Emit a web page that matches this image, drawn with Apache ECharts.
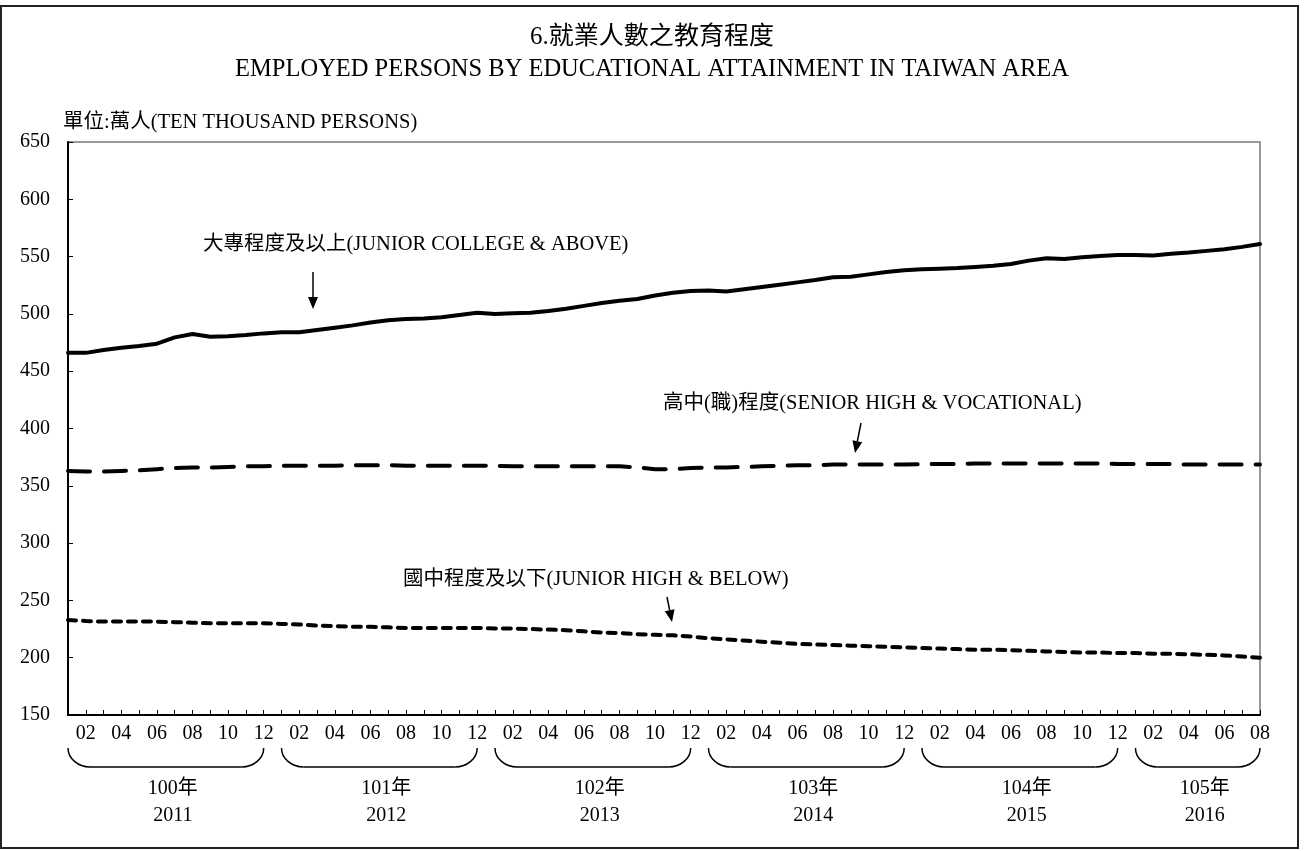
<!DOCTYPE html>
<html>
<head>
<meta charset="utf-8">
<script src="https://cdn.jsdelivr.net/npm/echarts@6/dist/echarts.min.js"></script>
<style>
  html, body { margin: 0; padding: 0; background: #fff; }
  #chart { width: 1304px; height: 851px; }
</style>
</head>
<body>
<div id="chart"></div>
<script>
// 2011-01 .. 2016-08, monthly
const months = []
for (let y = 2011; y <= 2016; y++) {
  for (let m = 1; m <= 12; m++) {
    if (y === 2016 && m > 8) break
    months.push(`${y}-${String(m).padStart(2, '0')}`)
  }
}

// 大專程度及以上
const college = [
  466, 466, 468.5, 470.5, 472, 474, 479.5, 482.5, 480, 480.5, 481.5, 483,
  484, 484, 486, 488, 490, 492.5, 494.5, 495.5, 496, 497, 499, 501,
  500, 500.5, 501, 502.5, 504.5, 507, 509.5, 511.5, 513, 516, 518.5, 520,
  520.5, 519.5, 521.5, 523.5, 525.5, 527.5, 529.5, 532, 532.5, 534.5, 536.5, 538,
  539, 539.5, 540, 541, 542, 543.5, 546.5, 548.5, 548, 549.5, 550.5, 551.5,
  551.5, 551, 552.5, 553.5, 555, 556.5, 558.5, 561
]

// 高中(職)程度
const seniorHigh = [
  363, 362.5, 362.5, 363, 363.5, 364.5, 365.5, 366, 366, 366.5, 367, 367,
  367.5, 367.5, 367.5, 367.5, 368, 368, 368, 367.5, 367.5, 367.5, 367.5, 367.5,
  367.5, 367, 367, 367, 367, 367, 367, 367, 366, 364.5, 364.5, 365.5,
  366, 366, 366.5, 367, 367.5, 368, 368, 368.5, 368.5, 368.5, 368.5, 368.5,
  369, 369, 369, 369.5, 369.5, 369.5, 369.5, 369.5, 369.5, 369.5, 369.5, 369,
  369, 369, 369, 368.5, 368.5, 368.5, 368.5, 368.5
]

// 國中程度及以下
const juniorHigh = [
  233, 232, 231.5, 231.5, 231.5, 231.5, 231, 230.5, 230, 230, 230, 230,
  229.5, 229, 228, 227.5, 227, 227, 226.5, 226, 226, 226, 226, 226,
  225.5, 225.5, 225, 224.5, 224, 223, 222, 221.5, 220.5, 220, 219.5, 218.5,
  217, 216, 215, 214, 213, 212, 211.5, 211, 210.5, 210, 209.5, 209,
  208.5, 208, 207.5, 207, 207, 206.5, 206, 205.5, 205, 204.5, 204.5, 204,
  204, 203.5, 203.5, 203, 202.5, 202, 201, 200
]

const rocYears = ['100年', '101年', '102年', '103年', '104年', '105年']
const adYears = ['2011', '2012', '2013', '2014', '2015', '2016']

const FONT = "'Liberation Serif', 'Noto Sans CJK TC', serif"
const chart = echarts.init(document.getElementById('chart'))

const lineSeries = (name, data, type) => ({
  name: name,
  type: 'line',
  data: data,
  symbol: 'none',
  smooth: false,
  lineStyle: { color: '#000', width: 4, type: type, cap: 'round', join: 'round' }
})

chart.setOption({
  animation: false,
  backgroundColor: '#fff',
  textStyle: { fontFamily: FONT, color: '#000' },
  grid: {
    left: 68, right: 44, top: 142, bottom: 136,
    show: true, borderColor: '#999', borderWidth: 2
  },
  xAxis: {
    type: 'category',
    boundaryGap: false,
    data: months,
    axisLine: { lineStyle: { color: '#000', width: 2 } },
    axisTick: { inside: true, length: 5, interval: 0, lineStyle: { color: '#000' } },
    axisLabel: {
      interval: 0,
      margin: 9,
      fontSize: 20,
      fontFamily: FONT,
      color: '#000',
      formatter: (val) => {
        const m = parseInt(val.slice(5), 10)
        return m % 2 === 0 ? val.slice(5) : ''
      }
    },
    splitLine: { show: false }
  },
  yAxis: {
    type: 'value',
    min: 150,
    max: 650,
    interval: 50,
    axisLine: { show: true, lineStyle: { color: '#000', width: 2 } },
    axisTick: { show: true, inside: true, length: 5, lineStyle: { color: '#000' } },
    axisLabel: { fontSize: 20, fontFamily: FONT, color: '#000', margin: 18 },
    splitLine: { show: false }
  },
  series: [
    lineSeries('大專程度及以上', college, 'solid'),
    lineSeries('高中(職)程度', seniorHigh, [22, 14]),
    lineSeries('國中程度及以下', juniorHigh, [8, 7])
  ]
})

// 標注文字與箭頭
const label = (text, x, y, size, align) => ({
  type: 'text',
  x: x, y: y,
  style: {
    text: text, fill: '#000', font: `${size}px ${FONT}`,
    align: align || 'left', verticalAlign: 'middle'
  }
})
const arrow = (x1, y1, x2, y2) => {
  const dx = x2 - x1
  const dy = y2 - y1
  const len = Math.sqrt(dx * dx + dy * dy)
  const ux = dx / len
  const uy = dy / len
  const bx = x2 - ux * 12
  const by = y2 - uy * 12
  return [
    { type: 'line', shape: { x1: x1, y1: y1, x2: bx, y2: by }, style: { stroke: '#000', lineWidth: 1.5 } },
    {
      type: 'polygon',
      shape: { points: [[x2, y2], [bx + uy * 5, by - ux * 5], [bx - uy * 5, by + ux * 5]] },
      style: { fill: '#000' }
    }
  ]
}

const graphics = [
  {
    type: 'rect',
    shape: { x: 1, y: 6, width: 1297, height: 842 },
    style: { fill: 'none', stroke: '#222', lineWidth: 2 },
    silent: true
  },
  label('6.就業人數之教育程度', 652, 37, 25, 'center'),
  label('EMPLOYED PERSONS BY EDUCATIONAL ATTAINMENT IN TAIWAN AREA', 652, 70, 24.5, 'center'),
  label('單位:萬人(TEN THOUSAND PERSONS)', 63, 123, 20.5),
  label('大專程度及以上(JUNIOR COLLEGE & ABOVE)', 203, 245, 20.5),
  label('高中(職)程度(SENIOR HIGH & VOCATIONAL)', 663, 404, 20.5),
  label('國中程度及以下(JUNIOR HIGH & BELOW)', 403, 580, 20.5)
]
  .concat(arrow(313, 272, 313, 309))
  .concat(arrow(861, 423, 855, 453))
  .concat(arrow(667, 597, 672, 622))

// 年度括號
const bracketStyle = { fill: 'none', stroke: '#000', lineWidth: 1.5 }
rocYears.forEach((roc, i) => {
  const first = i * 12
  const last = Math.min(first + 11, months.length - 1)
  const x0 = chart.convertToPixel({ xAxisIndex: 0 }, first)
  const x1 = chart.convertToPixel({ xAxisIndex: 0 }, last)
  const top = 748
  const bot = 767
  const w = 22
  graphics.push({
    type: 'bezierCurve',
    shape: { x1: x0, y1: top, cpx1: x0, cpy1: top + 10.5, cpx2: x0 + 10, cpy2: bot, x2: x0 + w, y2: bot },
    style: bracketStyle
  })
  graphics.push({
    type: 'line',
    shape: { x1: x0 + w, y1: bot, x2: x1 - w, y2: bot },
    style: bracketStyle
  })
  graphics.push({
    type: 'bezierCurve',
    shape: { x1: x1 - w, y1: bot, cpx1: x1 - 10, cpy1: bot, cpx2: x1, cpy2: top + 10.5, x2: x1, y2: top },
    style: bracketStyle
  })
  const cx = (x0 + x1) / 2 + 7
  graphics.push(label(roc, cx, 789, 20, 'center'))
  graphics.push(label(adYears[i], cx, 816, 20, 'center'))
})

chart.setOption({ graphic: graphics })
</script>
</body>
</html>
